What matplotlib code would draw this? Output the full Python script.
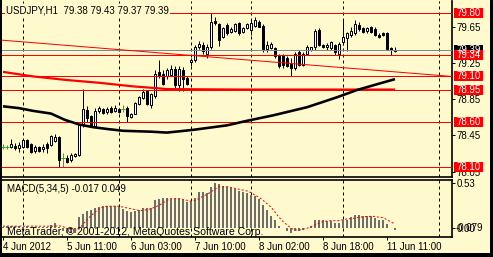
import matplotlib
matplotlib.use('Agg')
import matplotlib.pyplot as plt
from matplotlib.patches import Rectangle
import matplotlib.transforms as mtransforms

W, H, DPI = 493, 257, 100
BG = '#FFFACD'
FONT = 'Liberation Sans'
plt.rcParams['font.family'] = [FONT, 'DejaVu Sans']

# ---------------- data ----------------
symbol_title = "USDJPY,H1  79.38 79.43 79.37 79.39"
macd_title = "MACD(5,34,5) -0.017 0.049"
copyright_text = "MetaTrader, \u00a9 2001-2012, MetaQuotes Software Corp."

opens = [78.32, 78.32, 78.32, 78.33, 78.31, 78.32, 78.40, 78.35, 78.28, 78.32,
         78.30, 78.35, 78.34, 78.39, 78.43, 78.20, 78.20, 78.18, 78.22, 78.23,
         78.56, 78.73, 78.66, 78.55, 78.72, 78.74, 78.71, 78.75, 78.72, 78.74,
         78.74, 78.75, 78.65, 78.69, 78.80, 78.86, 78.94, 78.78, 78.88, 79.15,
         79.13, 79.10, 79.12, 79.18, 79.01, 79.17, 79.08, 79.26, 79.28, 79.43,
         79.45, 79.35, 79.42, 79.71, 79.68, 79.54, 79.67, 79.59, 79.60, 79.69,
         79.59, 79.63, 79.61, 79.66, 79.70, 79.66, 79.40, 79.41, 79.41, 79.34,
         79.34, 79.30, 79.24, 79.19, 79.37, 79.23, 79.35, 79.39, 79.42, 79.61,
         79.45, 79.42, 79.41, 79.45, 79.35, 79.48, 79.52, 79.56, 79.58, 79.67,
         79.63, 79.60, 79.65, 79.62, 79.56, 79.58, 79.58, 79.41, 79.38]
highs = [78.35, 78.34, 78.41, 78.36, 78.38, 78.41, 78.41, 78.36, 78.34, 78.33,
         78.35, 78.38, 78.45, 78.46, 78.44, 78.25, 78.23, 78.25, 78.25, 78.57,
         78.96, 78.77, 78.67, 78.75, 78.77, 78.75, 78.76, 78.77, 78.78, 78.75,
         78.78, 78.77, 78.70, 78.82, 78.88, 78.96, 78.95, 78.92, 79.17, 79.28,
         79.17, 79.19, 79.23, 79.21, 79.21, 79.20, 79.10, 79.30, 79.45, 79.49,
         79.48, 79.46, 79.80, 79.76, 79.69, 79.65, 79.69, 79.64, 79.69, 79.70,
         79.65, 79.69, 79.72, 79.76, 79.72, 79.68, 79.49, 79.48, 79.43, 79.35,
         79.35, 79.32, 79.30, 79.37, 79.39, 79.37, 79.45, 79.43, 79.62, 79.63,
         79.46, 79.47, 79.49, 79.46, 79.48, 79.72, 79.59, 79.65, 79.72, 79.70,
         79.65, 79.65, 79.66, 79.64, 79.58, 79.59, 79.59, 79.43, 79.43]
lows = [78.30, 78.30, 78.31, 78.29, 78.27, 78.31, 78.31, 78.25, 78.25, 78.27,
        78.27, 78.26, 78.33, 78.38, 78.10, 78.10, 78.14, 78.16, 78.21, 78.22,
        78.54, 78.60, 78.54, 78.54, 78.70, 78.69, 78.69, 78.70, 78.71, 78.70,
        78.71, 78.60, 78.64, 78.68, 78.79, 78.85, 78.78, 78.75, 78.86, 79.08,
        79.01, 79.07, 79.10, 78.95, 78.94, 78.94, 79.00, 79.22, 79.26, 79.40,
        79.35, 79.30, 79.40, 79.67, 79.44, 79.52, 79.56, 79.58, 79.59, 79.56,
        79.58, 79.62, 79.56, 79.65, 79.64, 79.37, 79.37, 79.40, 79.30, 79.19,
        79.19, 79.20, 79.10, 79.17, 79.21, 79.22, 79.34, 79.38, 79.39, 79.44,
        79.41, 79.39, 79.39, 79.34, 79.29, 79.45, 79.38, 79.54, 79.56, 79.60,
        79.58, 79.58, 79.58, 79.55, 79.52, 79.55, 79.39, 79.34, 79.37]
closes = [78.32, 78.32, 78.35, 78.31, 78.34, 78.40, 78.32, 78.27, 78.32, 78.28,
          78.32, 78.31, 78.44, 78.43, 78.18, 78.20, 78.15, 78.23, 78.24, 78.56,
          78.74, 78.64, 78.55, 78.72, 78.75, 78.70, 78.74, 78.71, 78.75, 78.71,
          78.74, 78.66, 78.69, 78.81, 78.87, 78.93, 78.80, 78.91, 79.13, 79.10,
          79.02, 79.17, 79.18, 79.01, 79.18, 79.07, 79.02, 79.28, 79.43, 79.46,
          79.38, 79.42, 79.70, 79.69, 79.50, 79.63, 79.58, 79.62, 79.68, 79.58,
          79.63, 79.68, 79.69, 79.72, 79.65, 79.40, 79.45, 79.46, 79.32, 79.21,
          79.23, 79.22, 79.19, 79.35, 79.23, 79.35, 79.42, 79.42, 79.60, 79.45,
          79.42, 79.45, 79.48, 79.37, 79.46, 79.54, 79.58, 79.60, 79.68, 79.62,
          79.59, 79.63, 79.59, 79.56, 79.54, 79.56, 79.40, 79.39, 79.39]

# thick red moving average (bar index, price)
ma_red_idx = [0, 7.5, 16, 24, 32.5, 38.5, 41, 60, 80, 98]
ma_red_val = [79.15, 79.10, 79.06, 79.03, 78.99, 78.97, 78.96, 78.955, 78.955, 78.955]
# thick black moving average (bar index, price)
ma_black_idx = [0, 4, 7.5, 12, 15.5, 19, 22.5, 26, 30, 37, 41, 47.5, 56, 61,
                67.5, 76, 83.5, 88.5, 94, 98]
ma_black_val = [78.77, 78.75, 78.72, 78.69, 78.62, 78.57, 78.54, 78.52, 78.50, 78.49,
                78.48, 78.51, 78.56, 78.61, 78.67, 78.76, 78.87, 78.95, 79.02, 79.07]
# descending trend line (bar index, price)
trend_idx = [-0.25, 112.1]
trend_val = [79.50, 79.10]

level_prices = [79.80, 79.34, 79.10, 78.95, 78.60, 78.10]
level_labels = ["79.80", "79.34", "79.10", "78.95", "78.60", "78.10"]
bid_price = 79.39
bid_label = "79.39"
price_ticks = [79.65, 79.25, 78.85, 78.45, 78.05]
price_tick_labels = ["79.65", "79.25", "78.85", "78.45", "78.05"]

macd_hist = [0.02, 0.025, 0.025, 0.03, 0.025, 0.02, 0.025, 0.02, 0.02, 0.015,
             0.015, 0.02, 0.04, 0.065, 0.02, -0.03, -0.06, -0.06, -0.05, 0.13,
             0.17, 0.20, 0.22, 0.24, 0.25, 0.26, 0.26, 0.26, 0.26, 0.25,
             0.23, 0.20, 0.19, 0.20, 0.22, 0.24, 0.24, 0.24, 0.33, 0.35,
             0.36, 0.36, 0.35, 0.34, 0.34, 0.33, 0.31, 0.32, 0.36, 0.43,
             0.43, 0.42, 0.49, 0.53, 0.52, 0.50, 0.49, 0.47, 0.46, 0.44,
             0.43, 0.41, 0.39, 0.38, 0.34, 0.27, 0.22, 0.15, 0.10, 0.024,
             0.008, -0.03, -0.055, -0.03, -0.03, -0.02, 0.008, 0.024, 0.094, 0.094,
             0.094, 0.086, 0.086, 0.063, 0.063, 0.094, 0.10, 0.13, 0.16, 0.16,
             0.15, 0.15, 0.14, 0.126, 0.10, 0.10, 0.047, 0.008, -0.017]
macd_signal = [0.025, 0.025, 0.025, 0.025, 0.025, 0.025, 0.025, 0.025, 0.025, 0.025,
               0.025, 0.025, 0.025, 0.025, 0.03, 0.02, 0.00, -0.01, -0.02, -0.01,
               0.05, 0.10, 0.15, 0.19, 0.23, 0.25, 0.26, 0.26, 0.26, 0.26,
               0.25, 0.24, 0.23, 0.22, 0.21, 0.21, 0.22, 0.23, 0.25, 0.27,
               0.30, 0.33, 0.35, 0.35, 0.35, 0.34, 0.33, 0.32, 0.33, 0.35,
               0.38, 0.40, 0.43, 0.46, 0.49, 0.49, 0.49, 0.48, 0.47, 0.46,
               0.45, 0.44, 0.42, 0.39, 0.365, 0.33, 0.29, 0.25, 0.19, 0.13,
               0.08, 0.04, 0.00, -0.02, -0.02, -0.01, 0.00, 0.02, 0.04, 0.06,
               0.08, 0.085, 0.09, 0.09, 0.09, 0.10, 0.11, 0.115, 0.12, 0.13,
               0.135, 0.14, 0.14, 0.14, 0.13, 0.125, 0.10, 0.075, 0.049]
macd_ticks = [0.53, 0.0]
macd_tick_labels = ["0.53", "0.00"]
macd_min_label = "-0.079"
macd_min_value = 0.0

separators = [5, 29, 47, 62, 85, 109]
time_tick_idx = [0, 16, 32, 48, 64, 80, 96]
time_tick_labels = ["4 Jun 2012", "5 Jun 11:00", "6 Jun 03:00", "7 Jun 10:00",
                    "8 Jun 02:00", "8 Jun 18:00", "11 Jun 11:00"]

# ---------------- layout ----------------
fig = plt.figure(figsize=(W / DPI, H / DPI), dpi=DPI, facecolor=BG)
PX = 0.72  # points per pixel


def fx(px):
    return px / W


def fy(py):
    return 1 - py / H


L, R = 2.0, 451.5
main_top, main_bot = 1.0, 177.0
macd_top, macd_bot = 179.5, 236.5

ax = fig.add_axes([fx(L), fy(main_bot), (R - L) / W, (main_bot - main_top) / H])
ax2 = fig.add_axes([fx(L), fy(macd_bot), (R - L) / W, (macd_bot - macd_top) / H])
for a in (ax, ax2):
    a.set_facecolor(BG)
    a.set_xlim((L - 3) / 4, (R - 3) / 4)

PPU = 90.6  # pixels per price unit
ax.set_ylim(79.80 - (main_bot - 13) / PPU, 79.80 + (13 - main_top) / PPU)
MPU = 84.9
ZERO_Y = 228.3
ax2.set_ylim((ZERO_Y - macd_bot) / MPU, (ZERO_Y - macd_top) / MPU)

# ---------------- main panel ----------------
for i, (o, h, l, c) in enumerate(zip(opens, highs, lows, closes)):
    if abs(o - c) < 1e-9:
        ax.vlines(i, l, h, color='#00CC00', lw=PX, zorder=3)
        ax.hlines(o, i - 0.45, i + 0.45, color='#00CC00', lw=PX, zorder=3)
    else:
        ax.vlines(i, l, h, color='black', lw=PX, zorder=3)
        ax.add_patch(Rectangle((i - 0.3, min(o, c)), 0.6, abs(c - o),
                               facecolor='white' if c > o else 'black',
                               edgecolor='black', lw=PX, zorder=4))

for p in level_prices:
    ax.axhline(p, color='#FF0000', lw=PX, zorder=5)
ax.axhline(bid_price, color='#778899', lw=PX, zorder=5)
ax.plot(trend_idx, trend_val, color='#FF0000', lw=PX, zorder=5)
ax.plot(ma_red_idx, ma_red_val, color='#FF0000', lw=2.2 * PX, zorder=6,
        solid_capstyle='butt')
ax.plot(ma_black_idx, ma_black_val, color='black', lw=2.6 * PX, zorder=6,
        solid_capstyle='butt')

for s in separators:
    for a in (ax, ax2):
        a.axvline(s, color='black', lw=PX, ls=(0, (3, 3)), zorder=2)

# ---------------- MACD panel ----------------
ax2.bar(range(len(macd_hist)), macd_hist, width=0.7, color='#6E6E6E', zorder=3)
ax2.plot(range(len(macd_signal)), macd_signal, color='#FF0000', lw=PX,
         ls=(0, (2, 2)), zorder=4)

# ---------------- axes styling ----------------
FS = 7
ax.spines['top'].set_visible(False)
ax.spines['left'].set_visible(False)
ax.spines['right'].set_linewidth(1.2)
ax.spines['bottom'].set_linewidth(1.2)
ax.set_xticks([])
ax.yaxis.tick_right()
ax.set_yticks(price_ticks)
ax.set_yticklabels(price_tick_labels)
ax.tick_params(axis='y', direction='out', length=3 * PX, width=PX, pad=1.5,
               labelsize=FS, colors='black')

ax2.spines['left'].set_visible(False)
for k in ('top', 'bottom', 'right'):
    ax2.spines[k].set_linewidth(1.2)
ax2.yaxis.tick_right()
ax2.set_yticks(macd_ticks)
ax2.set_yticklabels(macd_tick_labels)
ax2.tick_params(axis='y', direction='out', length=3 * PX, width=PX, pad=1.5,
                labelsize=FS, colors='black')
ax2.set_xticks(time_tick_idx)
ax2.set_xticklabels(time_tick_labels)
for t in ax2.get_xticklabels():
    t.set_horizontalalignment('left')
ax2.tick_params(axis='x', direction='out', length=3 * PX, width=PX, pad=1.5,
                labelsize=FS, colors='black')
ax2.text(1.0 + 4.5 / (R - L), macd_min_value, macd_min_label,
         transform=mtransforms.blended_transform_factory(ax2.transAxes, ax2.transData),
         ha='left', va='center', fontsize=FS, color='black', clip_on=False)

# price label boxes on the right
btr = mtransforms.blended_transform_factory(ax.transAxes, ax.transData)
bx0 = (454 - L) / (R - L)
bw = (483 - 454) / (R - L)
bh = 10 / PPU


def price_box(p, text, color):
    ax.add_patch(Rectangle((bx0, p - bh / 2), bw, bh, transform=btr,
                           facecolor=color, edgecolor='none', clip_on=False, zorder=8))
    ax.text(bx0 + bw / 2, p, text, transform=btr, ha='center', va='center',
            fontsize=FS, color='white', clip_on=False, zorder=9)


price_box(bid_price, bid_label, 'black')
for p, t in zip(level_prices, level_labels):
    price_box(p, t, '#FF0000')

# ---------------- texts ----------------
fig.text(fx(6), fy(10.5), symbol_title, ha='left', va='center', fontsize=FS,
         color='black', zorder=10,
         bbox=dict(facecolor=BG, edgecolor='none', pad=0.5))
fig.text(fx(7), fy(189.5), macd_title, ha='left', va='center', fontsize=FS,
         color='black', zorder=10)
fig.text(fx(7), fy(232), copyright_text, ha='left', va='center', fontsize=7.6,
         color='black', zorder=10)

# window frame
for rect in [(0, 0, 1.5 / W, 1), (0, 0, 1, 4 / H), (490 / W, 0, 3 / W, 1)]:
    fig.add_artist(Rectangle(rect[:2], rect[2], rect[3], transform=fig.transFigure,
                             facecolor='black', edgecolor='none', zorder=20))

fig.savefig('out.png', dpi=DPI, facecolor=BG)
